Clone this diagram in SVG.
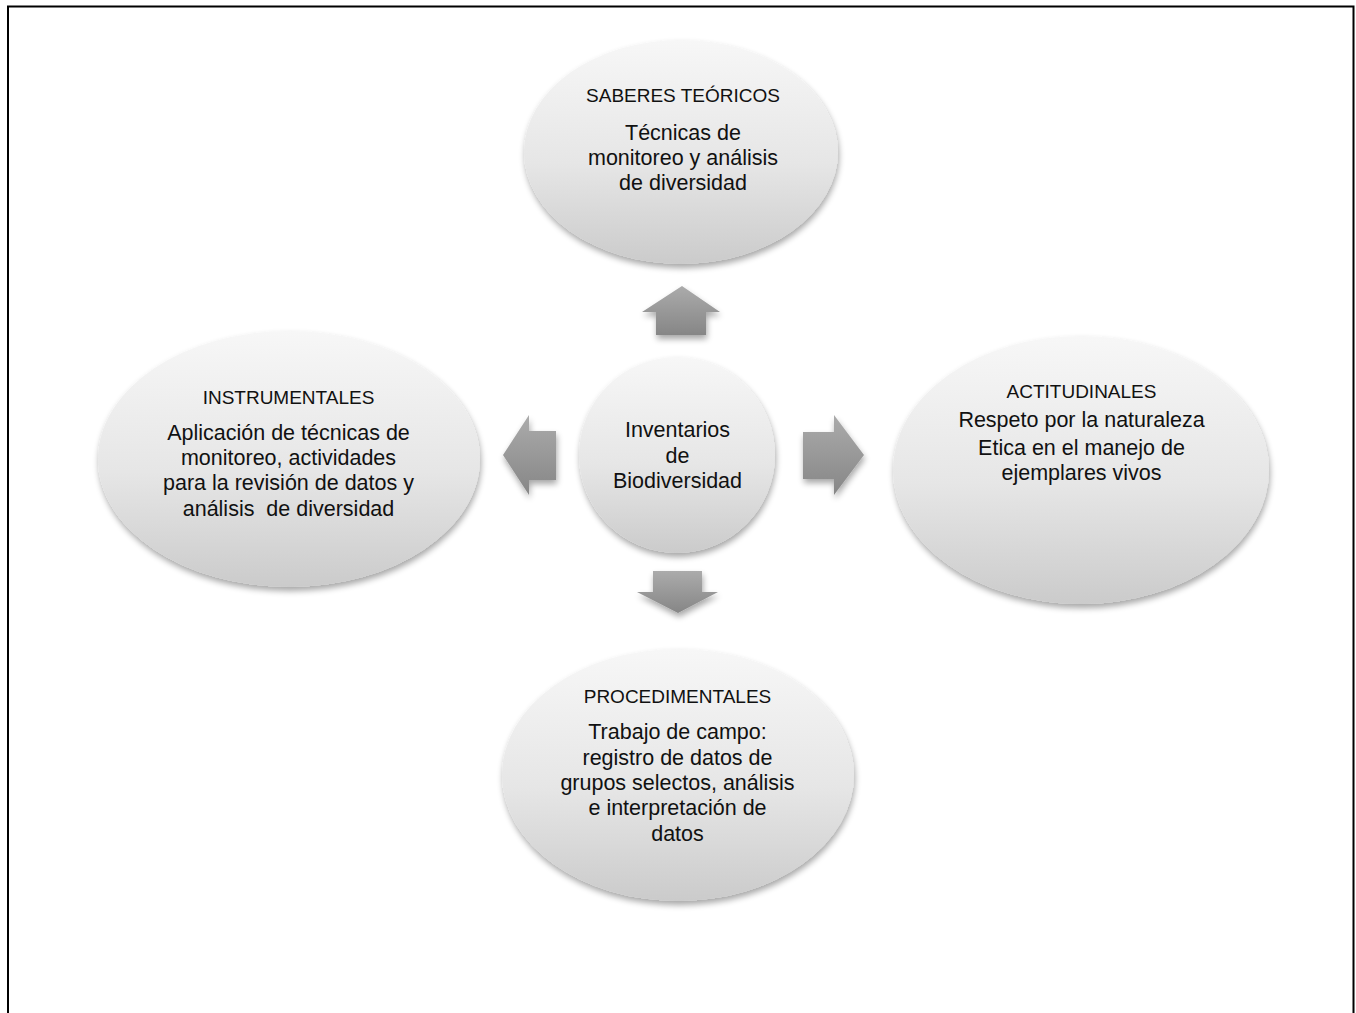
<svg xmlns="http://www.w3.org/2000/svg" width="1356" height="1013" viewBox="0 0 1356 1013">
<defs>
<linearGradient id="gEl" x1="0" y1="0" x2="0" y2="1">
<stop offset="0" stop-color="#f7f7f7"/>
<stop offset="0.55" stop-color="#e6e6e6"/>
<stop offset="1" stop-color="#cbcbcb"/>
</linearGradient>
<linearGradient id="gAr" x1="0" y1="0" x2="0" y2="1">
<stop offset="0" stop-color="#ababab"/>
<stop offset="1" stop-color="#868686"/>
</linearGradient>
<filter id="sh" x="-20%" y="-20%" width="140%" height="150%">
<feGaussianBlur in="SourceAlpha" stdDeviation="3"/>
<feOffset dx="1" dy="4" result="b"/>
<feComponentTransfer><feFuncA type="linear" slope="0.35"/></feComponentTransfer>
<feMerge><feMergeNode/><feMergeNode in="SourceGraphic"/></feMerge>
</filter>
</defs>
<style>
.el{fill:url(#gEl);filter:url(#sh)}
.ar{fill:url(#gAr);filter:url(#sh)}
text{font-family:"Liberation Sans",Arial,sans-serif;fill:#111;text-anchor:middle}
.h{font-size:19px}
.b{font-size:21.5px}
</style>
<rect width="1356" height="1013" fill="#fff"/>
<path d="M8,1020 V6.5 H1353.5 V1020" fill="none" stroke="#000" stroke-width="2"/>

<g id="connectors">
<polygon class="ar" points="682,286 720,312 706,312 706,335 656,335 656,312 642,312"/>
<polygon class="ar" points="503,455 529,415 529,431 556,431 556,480 529,480 529,495"/>
<polygon class="ar" points="864,455 834,415 834,432 803,432 803,479 834,479 834,495"/>
<polygon class="ar" points="678,613 718,592 702,592 702,571 653,571 653,592 637,592"/>
</g>

<g id="node-saberes">
<ellipse class="el" cx="681" cy="152" rx="157" ry="112"/>
<text class="h" x="683" y="102">SABERES TEÓRICOS</text>
<text class="b" x="683" y="140">Técnicas de</text>
<text class="b" x="683" y="165">monitoreo y análisis</text>
<text class="b" x="683" y="190">de diversidad</text>
</g>

<g id="node-centro">
<circle class="el" cx="677" cy="455" r="98"/>
<text class="b" x="677.5" y="437">Inventarios</text>
<text class="b" x="677.5" y="463">de</text>
<text class="b" x="677.5" y="488">Biodiversidad</text>
</g>

<g id="node-instrumentales">
<ellipse class="el" cx="289" cy="459" rx="191" ry="128"/>
<text class="h" x="288.5" y="404">INSTRUMENTALES</text>
<text class="b" x="288.5" y="440">Aplicación de técnicas de</text>
<text class="b" x="288.5" y="465">monitoreo, actividades</text>
<text class="b" x="288.5" y="490">para la revisión de datos y</text>
<text class="b" x="288.5" y="516" xml:space="preserve">análisis  de diversidad</text>
</g>

<g id="node-actitudinales">
<ellipse class="el" cx="1081" cy="470" rx="188" ry="134"/>
<text class="h" x="1081.5" y="398">ACTITUDINALES</text>
<text class="b" x="1081.5" y="427">Respeto por la naturaleza</text>
<text class="b" x="1081.5" y="455">Etica en el manejo de</text>
<text class="b" x="1081.5" y="480">ejemplares vivos</text>
</g>

<g id="node-procedimentales">
<ellipse class="el" cx="678" cy="775" rx="176" ry="126"/>
<text class="h" x="677.5" y="703">PROCEDIMENTALES</text>
<text class="b" x="677.5" y="739">Trabajo de campo:</text>
<text class="b" x="677.5" y="765">registro de datos de</text>
<text class="b" x="677.5" y="790">grupos selectos, análisis</text>
<text class="b" x="677.5" y="815">e interpretación de</text>
<text class="b" x="677.5" y="841">datos</text>
</g>
</svg>
